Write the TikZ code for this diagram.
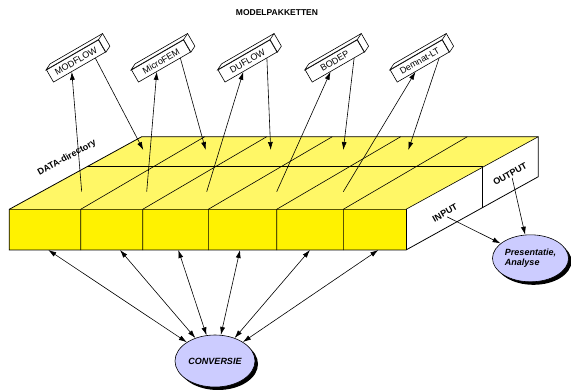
\documentclass[tikz,border=0pt]{standalone}
\usepackage{fontspec}
\setmainfont{Liberation Sans}
\usetikzlibrary{positioning}
\usetikzlibrary{arrows.meta}
\usetikzlibrary{calc}
\usetikzlibrary{shapes.geometric}
\usetikzlibrary{shadows}

\begin{document}
\begin{tikzpicture}[x=1pt, y=-1pt, line width=0.6pt, >={Latex[length=8pt,width=5pt]}]
\tikzstyle{modelbox}=[draw=black,fill=white,rotate=30,minimum width=60pt,minimum height=14pt,inner sep=1pt,font=\fontsize{9}{10}\selectfont]
\tikzstyle{bubble}=[ellipse,draw=black,fill=blue!20,inner sep=0pt,font=\fontsize{9}{10.5}\selectfont\bfseries\itshape,drop shadow={shadow xshift=3pt,shadow yshift=-3pt,fill=black,opacity=1}]
\tikzstyle{label3d}=[rotate=29,inner sep=1pt,font=\fontsize{9}{10}\selectfont\bfseries]
\useasboundingbox (0,0) rectangle (571,389);

\fill[yellow!60] (9.3,209.3) -- (141.7,136.7) -- (538.3,136.7) -- (406,209.3) -- cycle;
\fill[yellow] (9.3,209.3) rectangle (406,250);
\draw[line width=0.8pt] (9.3,209.3) -- (141.7,136.7) -- (538.3,136.7) -- (538.3,176.7) -- (406,250) -- (9.3,250) -- cycle;
\draw (9.3,209.3) -- (406,209.3) -- (538.3,136.7);
\draw (406,209.3) -- (406,250);
\draw (87,166.7) -- (482.7,166.7) -- (482.7,208);
\foreach \x in {80.7,142.7,208.3,276.7,343.3}
  \draw (\x,250) -- (\x,209.3) -- ++(124,-72.6);

\node[font=\fontsize{8.5}{10}\selectfont\bfseries] (title) at (277,13) {MODELPAKKETTEN};
\node[label3d] (datadir) at (67,158) {DATA-directory};
\node[label3d] (input) at (445,213) {INPUT};
\node[label3d] (output) at (510,174) {OUTPUT};

\foreach \b/\t/\x/\u/\d in {modflow/MODFLOW/76/81.7/143.3, microfem/MicroFEM/161/146.7/205.7, duflow/DUFLOW/247.5/206.7/270.7, bodep/BODEP/334.7/276.7/343.3, demnat/Demnat-LT/419.7/343.3/408.3}{
  \node[modelbox] (\b) at (\x,61) {\t};
  \draw[fill=white] (\b.north west) -- ++(4,-6) -- ($(\b.north east)+(4,-6)$) -- ($(\b.south east)+(4,-6)$) -- (\b.south east) -- (\b.north east) -- cycle;
  \draw (\b.north east) -- ++(4,-6);
  \coordinate (\b-in) at (\u,191.7);
  \coordinate (\b-out) at (\d,150);
  \draw[->] (\b-in) -- ($(\b.south west)!0.35!(\b.south east)$);
  \draw[->] ($(\b.south west)!0.8!(\b.south east)$) -- (\b-out);
}

\node[bubble,minimum width=80pt,minimum height=52pt] (conv) at (215,361) {CONVERSIE};
\node[bubble,minimum width=76pt,minimum height=47pt,align=left] (pres) at (530.5,258.3) {Presentatie,\\Analyse};

\foreach \x [count=\i] in {48.3,120,178.3,240,310,378.3} {
  \coordinate (col\i) at (\x,250);
  \draw[<->] (col\i) -- (conv);
}
\draw[->] (input.south) -- (pres);
\draw[->] (output.south) -- (pres);
\end{tikzpicture}
\end{document}
